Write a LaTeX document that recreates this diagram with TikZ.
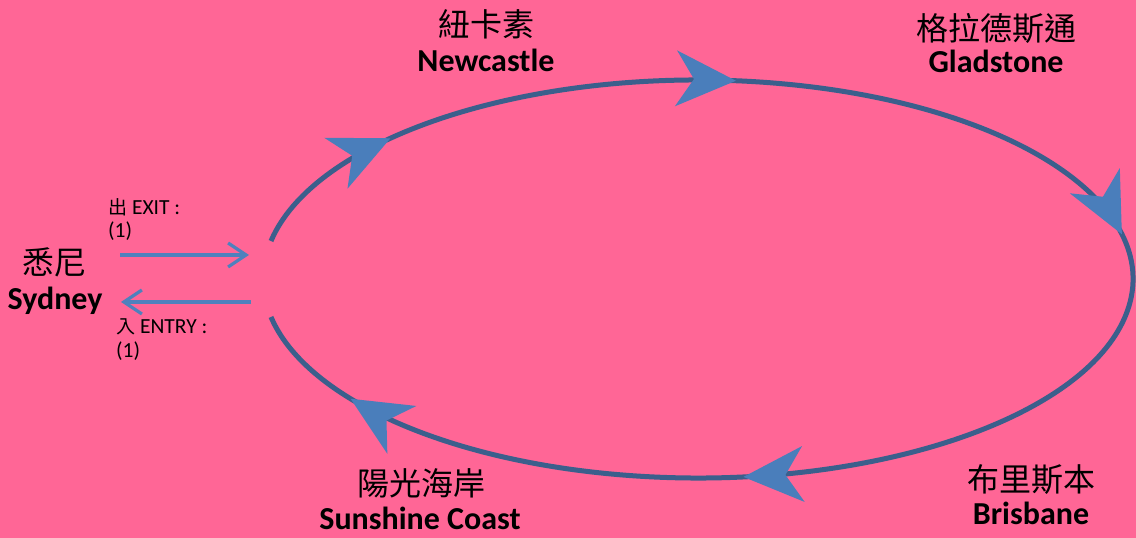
\documentclass[tikz,border=0pt]{standalone}
\usepackage{fontspec}
\setmainfont{Carlito}
\newfontfamily\cjk{Noto Sans CJK TC}
\usetikzlibrary{arrows.meta}
\definecolor{bgpink}{HTML}{FF6696}
\definecolor{ringcol}{HTML}{3B5F8C}
\definecolor{headcol}{HTML}{4A7EBB}
\definecolor{sidecol}{HTML}{4F81BD}
\newcommand\ringhead[1]{%
  \pgfmathsetmacro\hx{698+435*cos(#1)}%
  \pgfmathsetmacro\hy{259+199*sin(#1)}%
  \pgfmathsetmacro\ha{atan2(-199*cos(#1),435*sin(#1))}%
  \fill[headcol,shift={(\hx,\hy)},rotate=\ha] (0,0) -- (-60,28) -- (-42,0) -- (-60,-28) -- cycle;
}
\tikzset{
  cjklabel/.style={font=\cjk\fontsize{32}{36}\selectfont, inner sep=0pt},
  enlabel/.style={font=\bfseries\fontsize{32}{36}\selectfont, inner sep=0pt, anchor=base},
  smalllabel/.style={font=\fontsize{21.5}{24}\selectfont, inner sep=0pt, anchor=base west, align=left},
  sidearrow/.style={sidecol, line width=3.2pt, -{Straight Barb[length=18pt,width=24pt,line width=3.2pt]}},
}
\begin{document}
\begin{tikzpicture}[x=1pt,y=1pt]
\fill[bgpink] (0,0) rectangle (1136,538);
\useasboundingbox (0,0) rectangle (1136,538);
% ring
\coordinate (c) at (698,259);
\draw[ringcol, line width=5pt] (c) ++(169:435pt and 199pt) arc[start angle=169, end angle=-169, x radius=435pt, y radius=199pt];
\ringhead{135}
\ringhead{85}
\ringhead{13}
\ringhead{-84}
\ringhead{-143}
% labels
\node[cjklabel] (syd-cn) at (55,276) {悉尼};
\node[enlabel] (syd) at (55,228) {Sydney};
\node[cjklabel] (new-cn) at (486,514) {紐卡素};
\node[enlabel] (new) at (486,466) {Newcastle};
\node[cjklabel] (gla-cn) at (996,510) {格拉德斯通};
\node[enlabel] (gla) at (996,465) {Gladstone};
\node[cjklabel] (bri-cn) at (1031,58) {布里斯本};
\node[enlabel] (bri) at (1031,13) {Brisbane};
\node[cjklabel] (sun-cn) at (421,55) {陽光海岸};
\node[enlabel] (sun) at (420,8) {Sunshine Coast};
% exit / entry
\node[smalllabel] (exit) at (108,323) {{\cjk\fontsize{19}{20}\selectfont 出} EXIT :};
\node[smalllabel] (exitn) at (108,300) {(1)};
\node[smalllabel] (entry) at (116,204) {{\cjk\fontsize{19}{20}\selectfont 入} ENTRY :};
\node[smalllabel] (entryn) at (116,180) {(1)};
\coordinate (exA) at (120,283);
\coordinate (exB) at (249,283);
\coordinate (enA) at (251,236);
\coordinate (enB) at (121,236);
\draw[sidearrow] (exA) -- (exB);
\draw[sidearrow] (enA) -- (enB);
\end{tikzpicture}
\end{document}
